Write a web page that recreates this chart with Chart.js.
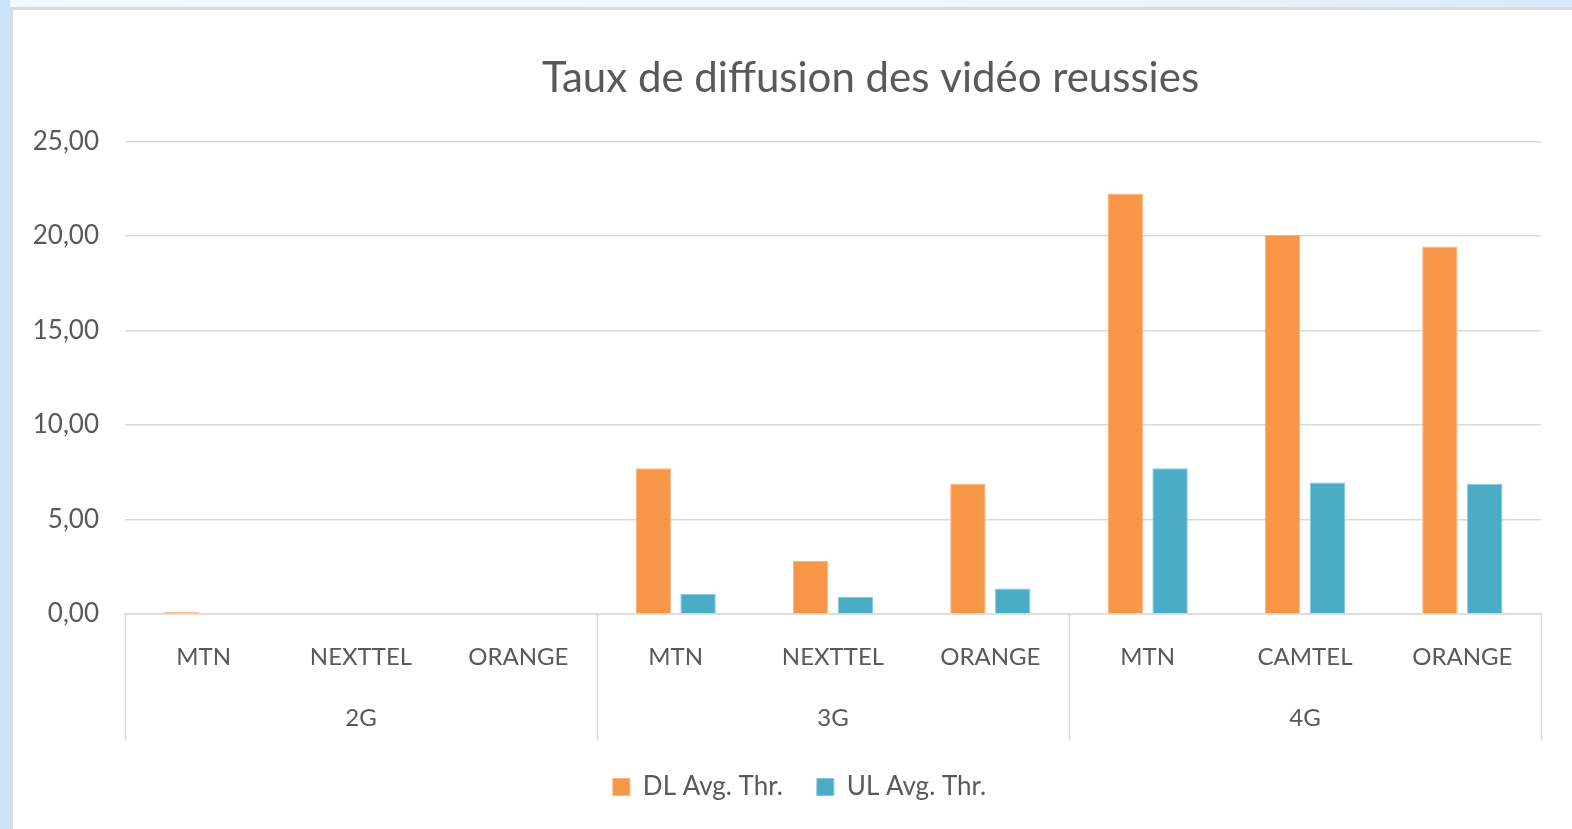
<!DOCTYPE html>
<html>
    <head>
        <meta charset="UTF-8">
        <title>Taux de diffusion des vidéo reussies</title>
        <script src="https://cdn.jsdelivr.net/npm/chart.js@4.4.1/dist/chart.umd.min.js"></script>
        <style>
            html,body{margin:0;padding:0;width:1572px;height:829px;overflow:hidden;background:#c9e3f8;}
            #topStrip{position:absolute;left:10px;top:0;right:0;height:7px;background:linear-gradient(to right,#f3f9fe,#eef6fd 70%,#d8eafa);}
            #panel{position:absolute;left:10px;top:7px;right:0;bottom:0;background:#fff;
                border-left:3px solid #d9d9d9;border-top:3px solid #dadada;}
            #chartContainer{position:absolute;left:0;top:0;width:1572px;height:829px;}
        </style>
    </head>
    <body>
        <div id="topStrip"></div>
        <div id="panel"></div>
        <div id="chartContainer"><canvas id="chart"></canvas></div>

        <script>
            const chartTitle="Taux de diffusion des vidéo reussies";
            const subLabels=["MTN","NEXTTEL","ORANGE","MTN","NEXTTEL","ORANGE","MTN","CAMTEL","ORANGE"];
            const groupLabels=["2G","3G","4G"];
            const groupSize=3;
            const seriesNames=["DL Avg. Thr.","UL Avg. Thr."];
            const dlValues=[0.10,0,0,7.71,2.80,6.89,22.25,20.05,19.44];
            const ulValues=[0,0,0,1.07,0.91,1.35,7.71,6.96,6.89];

            const gray="#595959";
            const lineGray="#d9d9d9";
            const fontName="Lato, 'Open Sans', sans-serif";
            // the Excel title and legend are not centred on the canvas
            const titleShift=100;
            const legendShift=29;

            // vertical separators between the 2G / 3G / 4G groups, under the plot
            const groupDividers={
                id:"groupDividers",
                afterLayout(chart){
                    chart.titleBlock.left+=2*titleShift;
                    chart.legend.left+=2*legendShift;
                },
                afterDraw(chart){
                    const x=chart.scales.x;
                    const x2=chart.scales.x2;
                    const step=(x.right-x.left)/subLabels.length;
                    const ctx=chart.ctx;
                    ctx.save();
                    ctx.strokeStyle=lineGray;
                    ctx.lineWidth=1.5;
                    for(let i=0;i<=subLabels.length;i+=groupSize){
                        const px=Math.round(x.left+step*i)+0.5;
                        ctx.beginPath();
                        ctx.moveTo(px,chart.chartArea.bottom);
                        ctx.lineTo(px,x2.bottom);
                        ctx.stroke();
                    }
                    ctx.restore();
                }
            };

            const chart=new Chart(document.getElementById("chart"),{
                type:"bar",
                data:{
                    labels:subLabels,
                    datasets:[
                        {label:seriesNames[0],data:dlValues,backgroundColor:"#f79646",
                            borderColor:"#fab383",borderWidth:1},
                        {label:seriesNames[1],data:ulValues,backgroundColor:"#4bacc6",
                            borderColor:"#86c8da",borderWidth:1}
                    ]
                },
                options:{
                    responsive:true,
                    maintainAspectRatio:false,
                    animation:false,
                    categoryPercentage:0.57,
                    barPercentage:0.79,
                    layout:{padding:{left:0,right:31,top:0,bottom:19}},
                    plugins:{
                        title:{
                            display:true,
                            text:chartTitle,
                            color:gray,
                            font:{family:fontName,size:42,weight:"normal"},
                            padding:{top:53,bottom:38}
                        },
                        legend:{
                            position:"bottom",
                            labels:{
                                color:gray,
                                font:{family:fontName,size:26},
                                boxWidth:17,
                                boxHeight:17,
                                padding:34
                            }
                        },
                        tooltip:{enabled:false}
                    },
                    scales:{
                        y:{
                            min:0,
                            max:25,
                            ticks:{
                                stepSize:5,
                                color:gray,
                                padding:26,
                                font:{family:fontName,size:26},
                                callback:v=>v.toFixed(2).replace(".",",")
                            },
                            grid:{color:lineGray,lineWidth:1.5,drawTicks:false},
                            border:{display:false},
                            afterFit:s=>{s.width=125;}
                        },
                        x:{
                            ticks:{
                                color:gray,
                                padding:21,
                                font:{family:fontName,size:24},
                                maxRotation:0,
                                autoSkip:false
                            },
                            grid:{display:false},
                            border:{display:true,color:lineGray,width:1.5},
                            afterFit:s=>{s.height=75;}
                        },
                        x2:{
                            type:"category",
                            labels:groupLabels,
                            position:"bottom",
                            offset:true,
                            ticks:{
                                color:gray,
                                padding:7,
                                font:{family:fontName,size:24},
                                maxRotation:0
                            },
                            grid:{display:false},
                            border:{display:false},
                            afterFit:s=>{s.height=51;}
                        }
                    }
                },
                plugins:[groupDividers]
            });
        </script>
    </body>
</html>
